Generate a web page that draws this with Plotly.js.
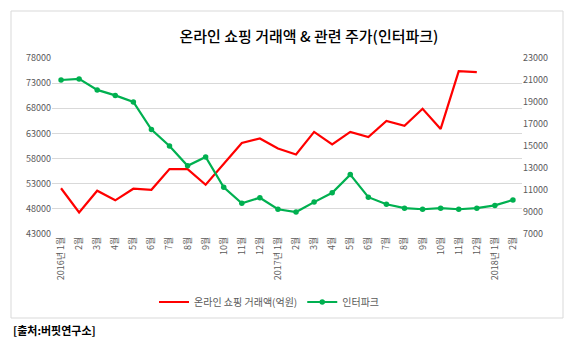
<!DOCTYPE html>
<html>
<head>
<meta charset="utf-8">
<script src="https://cdn.plot.ly/plotly-3.0.1.min.js"></script>
<style>
  html, body { margin: 0; padding: 0; background: #ffffff; }
  #chart { width: 575px; height: 351px; }
</style>
</head>
<body>
<div id="chart"></div>
<script>
const months = [
  "2016년 1월","2월","3월","4월","5월","6월","7월","8월","9월","10월","11월","12월",
  "2017년 1월","2월","3월","4월","5월","6월","7월","8월","9월","10월","11월","12월",
  "2018년 1월","2월"
];
const onlineSales = [
  52100, 47300, 51600, 49700, 52000, 51800, 55900, 55900, 52800, 56900, 61100, 62000,
  60000, 58800, 63300, 60800, 63300, 62300, 65500, 64500, 67900, 63900, 75400, 75200,
  null, null
];
const interpark = [
  21000, 21100, 20100, 19600, 19000, 16500, 15000, 13200, 14000, 11250, 9800, 10300,
  9250, 9000, 9900, 10750, 12400, 10350, 9700, 9350, 9250, 9350, 9250, 9350,
  9600, 10100
];
const salesName = "온라인 쇼핑 거래액(억원)";
const stockName = "인터파크";
const titleText = "온라인 쇼핑 거래액 & 관련 주가(인터파크)";
const sourceText = "[출처:버핏연구소]";

const idx = months.map((_, i) => i);
const FONT = "'Noto Sans CJK KR', 'Noto Sans', sans-serif";

const traces = [
  {
    x: idx, y: onlineSales, name: salesName, type: "scatter", mode: "lines",
    line: { color: "#ff0000", width: 2.2 }, yaxis: "y", connectgaps: false
  },
  {
    x: idx, y: interpark, name: stockName, type: "scatter", mode: "lines+markers",
    line: { color: "#00b050", width: 2.2 }, marker: { color: "#00b050", size: 5.5 },
    yaxis: "y2"
  }
];

const L = 52, R = 522, T = 58, B = 234;
const W = 575, H = 351;
const px = x => (x - L) / (R - L);
const py = y => (B - y) / (B - T);

const layout = {
  width: W, height: H,
  margin: { l: L, r: W - R, t: T, b: H - B, pad: 0 },
  paper_bgcolor: "#ffffff", plot_bgcolor: "#ffffff",
  font: { family: FONT, color: "#595959", size: 9 },
  title: {
    text: titleText, font: { family: FONT, size: 15, color: "#000000", weight: 500 },
    x: 309 / W, xanchor: "center", xref: "container",
    y: 1 - 37 / H, yanchor: "middle", yref: "container"
  },
  showlegend: true,
  legend: {
    orientation: "h", x: px(154), xanchor: "left", y: py(302), yanchor: "middle",
    font: { family: FONT, size: 10, color: "#595959" }, bgcolor: "rgba(0,0,0,0)",
    itemwidth: 30, tracegroupgap: 0
  },
  xaxis: {
    type: "linear", range: [-0.5, months.length - 0.5],
    tickmode: "array", tickvals: idx, ticktext: months, tickangle: -90,
    showgrid: false, zeroline: false, showline: false, ticks: "",
    tickfont: { family: FONT, size: 9, color: "#595959" }, automargin: false
  },
  yaxis: {
    range: [43000, 78000], dtick: 5000, tick0: 43000,
    showgrid: true, gridcolor: "#d9d9d9", gridwidth: 1, zeroline: false,
    showline: false, ticks: "", ticklen: 0,
    tickformat: "d",
    tickfont: { family: FONT, size: 9, color: "#595959" }, automargin: false
  },
  yaxis2: {
    overlaying: "y", side: "right",
    range: [7000, 23000], dtick: 2000, tick0: 7000,
    showgrid: false, zeroline: false, showline: false, ticks: "",
    tickformat: "d",
    tickfont: { family: FONT, size: 9, color: "#595959" }, automargin: false
  },
  shapes: [
    {
      type: "rect", xref: "paper", yref: "paper",
      x0: px(11), x1: px(563), y0: py(318), y1: py(11),
      line: { color: "#d9d9d9", width: 1 }, fillcolor: "rgba(0,0,0,0)", layer: "below"
    }
  ],
  annotations: [
    {
      text: "<b>" + sourceText + "</b>", xref: "paper", yref: "paper",
      x: px(11), y: py(330), xanchor: "left", yanchor: "middle", showarrow: false,
      font: { family: FONT, size: 11, color: "#000000" }
    }
  ]
};

Plotly.newPlot("chart", traces, layout, { displayModeBar: false, staticPlot: true });
</script>
</body>
</html>
